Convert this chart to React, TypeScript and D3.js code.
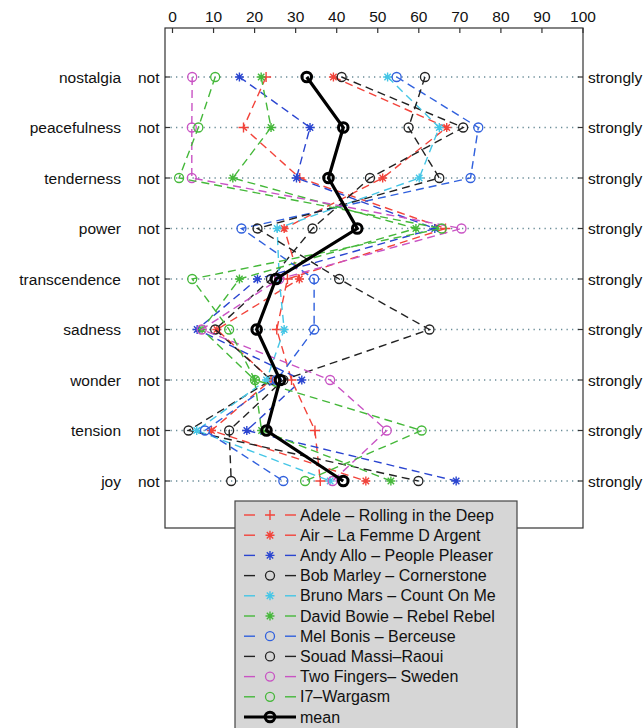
import { useEffect, useRef } from "react";
import * as d3 from "d3";

const emotions = ["nostalgia", "peacefulness", "tenderness", "power", "transcendence", "sadness", "wonder", "tension", "joy"];
const xTicks = [0, 10, 20, 30, 40, 50, 60, 70, 80, 90, 100];

const songNames = [
  "Adele – Rolling in the Deep",
  "Air – La Femme D Argent",
  "Andy Allo – People Pleaser",
  "Bob Marley – Cornerstone",
  "Bruno Mars – Count On Me",
  "David Bowie – Rebel Rebel",
  "Mel Bonis – Berceuse",
  "Souad Massi–Raoui",
  "Two Fingers– Sweden",
  "I7–Wargasm",
];

// one value per emotion, same order as `emotions`
const adele = [22.8, 17.3, 31, 66.5, 28, 25.4, 29, 34.7, 36];
const air = [39.2, 66.8, 51.2, 27.2, 30.9, 10.8, 24, 9.5, 47.1];
const andyAllo = [16.3, 33.5, 30.2, 63.9, 20.7, 6.0, 31.5, 18.1, 69.1];
const bobMarley = [41.2, 70.8, 48.1, 34.1, 24, 10.4, 24, 3.9, 59.9];
const brunoMars = [52.4, 65.0, 60.1, 25.5, 26, 27.2, 22.9, 5.9, 38.4];
const davidBowie = [21.6, 24.0, 14.7, 59.3, 16.3, 7.2, 20.0, 21.7, 53.2];
const melBonis = [54.6, 74.5, 72.6, 16.8, 34.5, 34.5, 25.4, 7.9, 27.0];
const souadMassi = [61.5, 57.5, 65.0, 20.7, 40.6, 62.6, 27, 13.8, 14.3];
const twoFingers = [4.8, 4.7, 4.7, 70.4, 26, 7.1, 38.4, 52.2, 39];
const i7 = [10.4, 6.3, 1.6, 65.6, 4.8, 13.8, 20.1, 60.7, 32.3];
const meanValues = [32.7, 41.6, 38.0, 45.0, 25.2, 20.5, 26.2, 22.9, 41.6];

const seriesValues = [adele, air, andyAllo, bobMarley, brunoMars, davidBowie, melBonis, souadMassi, twoFingers, i7];
const seriesColors = ["#f2433a", "#f2433a", "#2a45d0", "#222222", "#45c6e6", "#45b83a", "#3060dd", "#222222", "#c953c4", "#45b83a"];
const seriesMarkers = ["plus", "star", "star", "circle", "star", "star", "circle", "circle", "circle", "circle"];

const FONT = "'Liberation Sans', Arial, Helvetica, sans-serif";

function drawMarker(g: any, type: string, color: string, cx: number, cy: number) {
  if (type === "circle") {
    g.append("circle")
      .attr("cx", cx).attr("cy", cy).attr("r", 4.5)
      .attr("fill", "none").attr("stroke", color).attr("stroke-width", 1.3);
  } else if (type === "plus") {
    g.append("path")
      .attr("d", `M${cx - 5},${cy}H${cx + 5}M${cx},${cy - 5}V${cy + 5}`)
      .attr("stroke", color).attr("stroke-width", 1.4).attr("fill", "none");
  } else {
    const r = 4.5, d = 3.2;
    g.append("path")
      .attr("d", `M${cx - r},${cy}H${cx + r}M${cx},${cy - r}V${cy + r}M${cx - d},${cy - d}L${cx + d},${cy + d}M${cx - d},${cy + d}L${cx + d},${cy - d}`)
      .attr("stroke", color).attr("stroke-width", 1.4).attr("fill", "none");
  }
}

export default function App() {
  const svgRef = useRef<SVGSVGElement | null>(null);

  useEffect(() => {
    if (!svgRef.current) return;
    const svg = d3.select(svgRef.current);
    svg.selectAll("*").remove();

    const box = { left: 165, right: 583, top: 28, bottom: 528 };
    const fs = 15.5;

    const x = d3.scaleLinear().domain([0, 100]).range([172.5, 583]);
    const y = d3.scalePoint<string>().domain(emotions).range([77, 481]);

    // dotted row guides
    svg.selectAll(".grid")
      .data(emotions)
      .enter()
      .append("line")
      .attr("x1", box.left).attr("x2", box.right)
      .attr("y1", d => y(d)!).attr("y2", d => y(d)!)
      .attr("stroke", "#6a8c98")
      .attr("stroke-width", 1.3)
      .attr("stroke-dasharray", "1.3,4.2");

    // box
    svg.append("rect")
      .attr("x", box.left).attr("y", box.top)
      .attr("width", box.right - box.left).attr("height", box.bottom - box.top)
      .attr("fill", "none").attr("stroke", "#333").attr("stroke-width", 1.2);

    // top axis
    const top = svg.append("g");
    xTicks.forEach(t => {
      top.append("line")
        .attr("x1", x(t)).attr("x2", x(t))
        .attr("y1", box.top).attr("y2", box.top + 5)
        .attr("stroke", "#333").attr("stroke-width", 1.2);
      top.append("text")
        .attr("x", x(t)).attr("y", 22)
        .attr("text-anchor", "middle")
        .attr("font-family", FONT).attr("font-size", fs).attr("fill", "#111")
        .text(t);
    });

    // row labels and side ticks
    emotions.forEach(e => {
      const yy = y(e)!;
      svg.append("line").attr("x1", box.left).attr("x2", box.left + 5)
        .attr("y1", yy).attr("y2", yy).attr("stroke", "#333").attr("stroke-width", 1.2);
      svg.append("line").attr("x1", box.right - 5).attr("x2", box.right)
        .attr("y1", yy).attr("y2", yy).attr("stroke", "#333").attr("stroke-width", 1.2);
      svg.append("text").attr("x", 121).attr("y", yy + 5.5)
        .attr("text-anchor", "end").attr("font-family", FONT).attr("font-size", fs).attr("fill", "#111")
        .text(e);
      svg.append("text").attr("x", 138).attr("y", yy + 5.5)
        .attr("font-family", FONT).attr("font-size", fs).attr("fill", "#111")
        .text("not");
      svg.append("text").attr("x", 588).attr("y", yy + 5.5)
        .attr("font-family", FONT).attr("font-size", fs).attr("fill", "#111")
        .text("strongly");
    });

    const line = d3.line<number>()
      .x(d => x(d))
      .y((_, i) => y(emotions[i])!);

    // songs
    seriesValues.forEach((vals, si) => {
      const g = svg.append("g");
      g.append("path")
        .datum(vals)
        .attr("d", line)
        .attr("fill", "none")
        .attr("stroke", seriesColors[si])
        .attr("stroke-width", 1.4)
        .attr("stroke-dasharray", "8,5");
      vals.forEach((v, i) => drawMarker(g, seriesMarkers[si], seriesColors[si], x(v), y(emotions[i])!));
    });

    // mean
    const mg = svg.append("g");
    mg.append("path")
      .datum(meanValues)
      .attr("d", line)
      .attr("fill", "none")
      .attr("stroke", "#000")
      .attr("stroke-width", 3.2);
    meanValues.forEach((v, i) => {
      mg.append("circle")
        .attr("cx", x(v)).attr("cy", y(emotions[i])!).attr("r", 4.8)
        .attr("fill", "none").attr("stroke", "#000").attr("stroke-width", 3);
    });

    // legend
    const lg = svg.append("g");
    lg.append("rect")
      .attr("x", 235).attr("y", 501)
      .attr("width", 282).attr("height", 240)
      .attr("fill", "#d6d6d6").attr("stroke", "#444").attr("stroke-width", 1.2);
    const ly = d3.scaleLinear().domain([0, 10]).range([515, 717]);
    const labels = [...songNames, "mean"];
    labels.forEach((name, i) => {
      const yy = ly(i);
      if (i < songNames.length) {
        const c = seriesColors[i];
        lg.append("line").attr("x1", 244).attr("x2", 255).attr("y1", yy).attr("y2", yy)
          .attr("stroke", c).attr("stroke-width", 1.4);
        lg.append("line").attr("x1", 285).attr("x2", 296).attr("y1", yy).attr("y2", yy)
          .attr("stroke", c).attr("stroke-width", 1.4);
        drawMarker(lg, seriesMarkers[i], c, 270, yy);
      } else {
        lg.append("line").attr("x1", 244).attr("x2", 296).attr("y1", yy).attr("y2", yy)
          .attr("stroke", "#000").attr("stroke-width", 3.2);
        lg.append("circle").attr("cx", 270).attr("cy", yy).attr("r", 4.8)
          .attr("fill", "none").attr("stroke", "#000").attr("stroke-width", 3);
      }
      lg.append("text").attr("x", 300).attr("y", yy + 5.5)
        .attr("font-family", FONT).attr("font-size", 16).attr("fill", "#111")
        .text(name);
    });
  }, []);

  return (
    <svg
      ref={svgRef}
      width={644}
      height={728}
      style={{ position: "absolute", left: 0, top: 0, background: "#fff" }}
    />
  );
}
